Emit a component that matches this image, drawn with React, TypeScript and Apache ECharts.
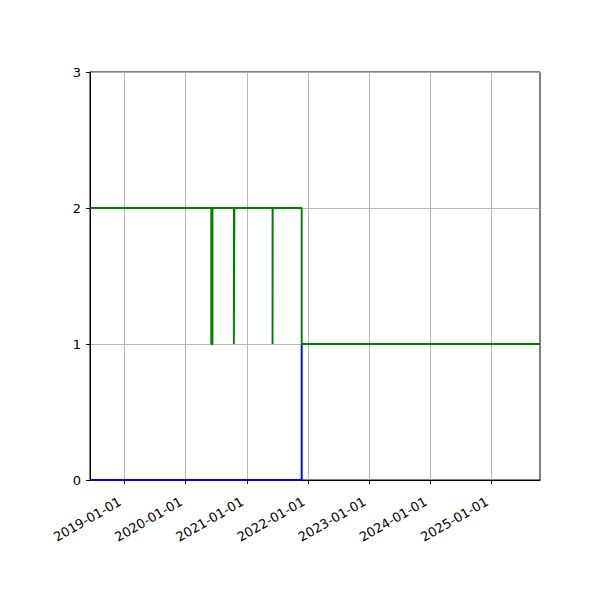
import React, { useEffect, useRef } from "react";
import * as echarts from "echarts";

// ---- data ----
const xStart = "2018-06-10";
const xEnd = "2025-10-18";
const tickDates = [
  "2019-01-01",
  "2020-01-01",
  "2021-01-01",
  "2022-01-01",
  "2023-01-01",
  "2024-01-01",
  "2025-01-01",
];
const yTicks = [0, 1, 2, 3];

const blueDates = ["2018-06-10", "2021-11-25", "2025-10-18"];
const blueValues = [0, 1, 1];

const greenDates = [
  "2018-06-10",
  "2020-06-03",
  "2020-06-10",
  "2020-10-16",
  "2020-10-19",
  "2021-06-04",
  "2021-06-05",
  "2021-11-25",
  "2025-10-18",
];
const greenValues = [2, 1, 2, 1, 2, 1, 2, 1, 1];

function parseDate(s: string): number {
  const [y, m, d] = s.split("-").map(Number);
  return new Date(y, m - 1, d).getTime();
}
function pad(n: number) {
  return n < 10 ? "0" + n : "" + n;
}
function fmtDate(v: number): string {
  const d = new Date(v);
  return d.getFullYear() + "-" + pad(d.getMonth() + 1) + "-" + pad(d.getDate());
}

const FONT = "DejaVu Sans";

export default function App() {
  const ref = useRef<HTMLDivElement>(null);
  useEffect(() => {
    if (!ref.current) return;
    const chart = echarts.init(ref.current, undefined, { renderer: "svg" });
    const tickVals = tickDates.map(parseDate);
    chart.setOption({
      animation: false,
      backgroundColor: "#ffffff",
      grid: {
        left: 90,
        right: 60,
        top: 72,
        bottom: 120,
        show: true,
        borderColor: "#000",
        borderWidth: 1,
        backgroundColor: "transparent",
      },
      xAxis: {
        type: "value",
        min: parseDate(xStart),
        max: parseDate(xEnd),
        axisLine: { show: true, onZero: false, lineStyle: { color: "#000", width: 1 } },
        axisTick: {
          show: true,
          length: 4,
          lineStyle: { color: "#000", width: 1 },
          customValues: tickVals,
        },
        axisLabel: {
          customValues: tickVals,
          rotate: 30,
          margin: 18,
          padding: [0, 5, 0, 0],
          color: "#000",
          fontFamily: FONT,
          fontSize: 13,
          formatter: (v: number) => fmtDate(v),
        },
        splitLine: {
          show: true,
          lineStyle: { color: "#b0b0b0", width: 0.9 },
        },
      },
      yAxis: {
        type: "value",
        min: yTicks[0],
        max: yTicks[yTicks.length - 1],
        interval: 1,
        axisLine: { show: true, lineStyle: { color: "#000", width: 1 } },
        axisTick: { show: true, length: 4, lineStyle: { color: "#000", width: 1 } },
        axisLabel: {
          margin: 9,
          color: "#000",
          fontFamily: FONT,
          fontSize: 13,
        },
        splitLine: {
          show: true,
          lineStyle: { color: "#b0b0b0", width: 0.9 },
        },
      },
      series: [
        {
          type: "line",
          step: "end",
          showSymbol: false,
          symbol: "none",
          lineStyle: { color: "#0000ff", width: 1.9 },
          data: blueDates.map((d, i) => [parseDate(d), blueValues[i]]),
        },
        {
          type: "line",
          step: "end",
          showSymbol: false,
          symbol: "none",
          lineStyle: { color: "#008000", width: 1.9 },
          data: greenDates.map((d, i) => [parseDate(d), greenValues[i]]),
        },
      ],
    });
    return () => chart.dispose();
  }, []);
  return (
    <div
      ref={ref}
      style={{ position: "absolute", left: 0, top: 0, width: 600, height: 600 }}
    />
  );
}
